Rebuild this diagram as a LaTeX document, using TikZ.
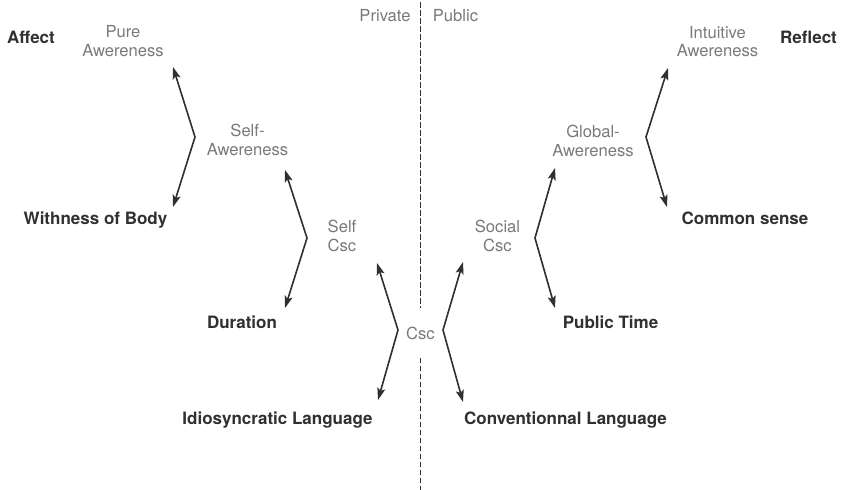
\documentclass[tikz,border=0pt]{standalone}
\usepackage{fontspec}
\setmainfont{TeX Gyre Heros}
\usetikzlibrary{arrows.meta}
\definecolor{ink}{HTML}{303030}
\definecolor{soft}{HTML}{7A7A7A}
\begin{document}
\begin{tikzpicture}[x=1pt,y=-1pt,
  concept/.style={inner sep=0pt, text=soft, font=\fontsize{16.6}{18.8}\selectfont, align=center},
  term/.style={inner sep=0pt, text=ink, font=\bfseries\fontsize{17}{20}\selectfont, anchor=base},
  branch/.style={draw=ink, line width=1.6pt, line join=miter,
    {Stealth[length=12pt,width=8pt,inset=2.5pt]}-{Stealth[length=12pt,width=8pt,inset=2.5pt]}},
  divider/.style={draw=ink, line width=1.7pt, dash pattern=on 5.5pt off 2.5pt}]
\useasboundingbox[fill=white] (0,0) rectangle (841,490);

% divider and side labels
\node[concept] (private) at (385,16) {Private};
\node[concept] (public) at (455.5,16) {Public};
\node[concept, minimum height=49pt] (csc) at (420.5,333) {Csc};
\coordinate (dtop) at (420.5,2);
\coordinate (dbot) at (420.5,490);
\draw[divider] (dtop) -- (csc.north);
\draw[divider] (csc.south) -- (dbot);

% grey concepts
\node[concept] (pure) at (123,41) {Pure\\Awereness};
\node[concept] (selfaw) at (247.5,140) {Self-\\Awereness};
\node[concept] (selfcsc) at (342,236) {Self\\Csc};
\node[concept] (socialcsc) at (497.5,236) {Social\\Csc};
\node[concept] (globalaw) at (593,141) {Global-\\Awereness};
\node[concept] (intuitive) at (717.5,41.5) {Intuitive\\Awereness};

% bold terms
\node[term] (affect) at (31,43) {Affect};
\node[term, anchor=base west] (reflect) at (780,43) {Reflect};
\node[term] (body) at (95.5,224) {Withness of Body};
\node[term] (duration) at (242,328) {Duration};
\node[term] (idio) at (277.5,424) {Idiosyncratic Language};
\node[term] (conv) at (565.5,424) {Conventionnal Language};
\node[term] (ptime) at (610.5,328) {Public Time};
\node[term] (common) at (745,224) {Common sense};

% branching connectors
\coordinate (v1) at (195,137);  \coordinate (t1a) at (173,67);  \coordinate (t1b) at (173,207);
\coordinate (v2) at (307,238);  \coordinate (t2a) at (285,170); \coordinate (t2b) at (285,308);
\coordinate (v3) at (398,330);  \coordinate (t3a) at (377,263); \coordinate (t3b) at (378,400);
\coordinate (v4) at (443,330);  \coordinate (t4a) at (463,262); \coordinate (t4b) at (463,402);
\coordinate (v5) at (535,238);  \coordinate (t5a) at (555,168); \coordinate (t5b) at (555,308);
\coordinate (v6) at (646,137);  \coordinate (t6a) at (668,68);  \coordinate (t6b) at (667,207);
\draw[branch] (t1a) -- (v1) -- (t1b);
\draw[branch] (t2a) -- (v2) -- (t2b);
\draw[branch] (t3a) -- (v3) -- (t3b);
\draw[branch] (t4a) -- (v4) -- (t4b);
\draw[branch] (t5a) -- (v5) -- (t5b);
\draw[branch] (t6a) -- (v6) -- (t6b);
\end{tikzpicture}
\end{document}
